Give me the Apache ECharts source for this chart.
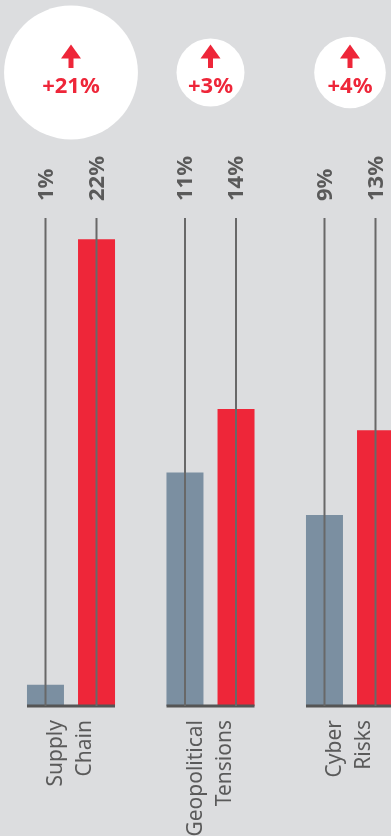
<!DOCTYPE html>
<html>
<head>
<meta charset="utf-8">
<script src="https://cdn.jsdelivr.net/npm/echarts@6/dist/echarts.min.js"></script>
<style>
  html, body { margin: 0; padding: 0; background: #dcdddf; }
  #chart { width: 391px; height: 836px; }
</style>
</head>
<body>
<div id="chart"></div>
<script>
// data
var categories = ['Supply\nChain', 'Geopolitical\nTensions', 'Cyber\nRisks']
var before = [1, 11, 9]
var after = [22, 14, 13]
var change = [21, 3, 4]
var yMax = 23

var RED = '#ee2639'
var GREY = '#7b8fa1'
var TEXT = '#5a5a5a'
var FONT = 'Noto Sans'

var chart = echarts.init(document.getElementById('chart'))

var refData = categories.map(function (c, i) { return [i, before[i], after[i]] })
var bubbleData = categories.map(function (c, i) { return [i, 0.5, change[i]] })

chart.setOption({
  backgroundColor: '#dcdddf',
  animation: false,
  grid: [
    { left: 1.25, width: 418.5, top: 218, height: 488, containLabel: false, outerBoundsMode: 'none' },
    { left: 1.25, width: 418.5, top: 0, height: 145, containLabel: false, outerBoundsMode: 'none' }
  ],
  xAxis: [{
    type: 'category',
    data: categories,
    gridIndex: 0,
    axisLine: { show: false },
    axisTick: { show: false },
    axisLabel: {
      rotate: 90,
      interval: 0,
      margin: 14,
      color: TEXT,
      fontFamily: FONT,
      fontSize: 21,
      lineHeight: 29
    }
  }, {
    type: 'category',
    data: categories,
    gridIndex: 1,
    show: false
  }],
  yAxis: [
    { type: 'value', gridIndex: 0, min: 0, max: yMax, show: false },
    { type: 'value', gridIndex: 1, min: 0, max: 1, show: false }
  ],
  series: [{
    type: 'bar',
    data: before,
    barWidth: 37,
    barGap: '38%',
    itemStyle: { color: GREY }
  }, {
    type: 'bar',
    data: after,
    barWidth: 37,
    itemStyle: { color: RED }
  }, {
    // baselines, reference lines and value labels
    type: 'custom',
    z: 5,
    data: refData,
    renderItem: function (params, api) {
      var base = api.coord([api.value(0), 0])
      var top = api.coord([api.value(0), yMax])
      var off = 25.5
      var vals = [api.value(1), api.value(2)]
      var children = [{
        type: 'line',
        shape: { x1: base[0] - 44, y1: base[1], x2: base[0] + 44, y2: base[1] },
        style: { stroke: '#555555', lineWidth: 3 }
      }]
      ;[-off, off].forEach(function (d, k) {
        children.push({
          type: 'line',
          shape: { x1: base[0] + d, y1: top[1], x2: base[0] + d, y2: base[1] },
          style: { stroke: '#686868', lineWidth: 2 }
        })
        children.push({
          type: 'text',
          x: base[0] + d + 1,
          y: top[1] - 17,
          rotation: Math.PI / 2,
          style: {
            text: vals[k] + '%',
            fill: TEXT,
            font: 'bold 22px "' + FONT + '"',
            align: 'left',
            verticalAlign: 'middle'
          }
        })
      })
      return { type: 'group', children: children }
    }
  }, {
    // change bubbles
    type: 'custom',
    xAxisIndex: 1,
    yAxisIndex: 1,
    data: bubbleData,
    renderItem: function (params, api) {
      var c = api.coord([api.value(0), api.value(1)])
      var v = api.value(2)
      var r = 28.5 + 1.83 * v
      return {
        type: 'group',
        children: [{
          type: 'circle',
          shape: { cx: c[0], cy: c[1], r: r },
          style: { fill: '#ffffff' }
        }, {
          type: 'polygon',
          shape: { points: [[c[0], c[1] - 28], [c[0] + 10, c[1] - 14], [c[0] - 10, c[1] - 14]] },
          style: { fill: RED }
        }, {
          type: 'rect',
          shape: { x: c[0] - 2.5, y: c[1] - 14.5, width: 5, height: 10 },
          style: { fill: RED }
        }, {
          type: 'text',
          x: c[0],
          y: c[1] + 14,
          style: {
            text: '+' + v + '%',
            fill: RED,
            font: 'bold 22px "' + FONT + '"',
            align: 'center',
            verticalAlign: 'middle'
          }
        }]
      }
    }
  }]
})
</script>
</body>
</html>
